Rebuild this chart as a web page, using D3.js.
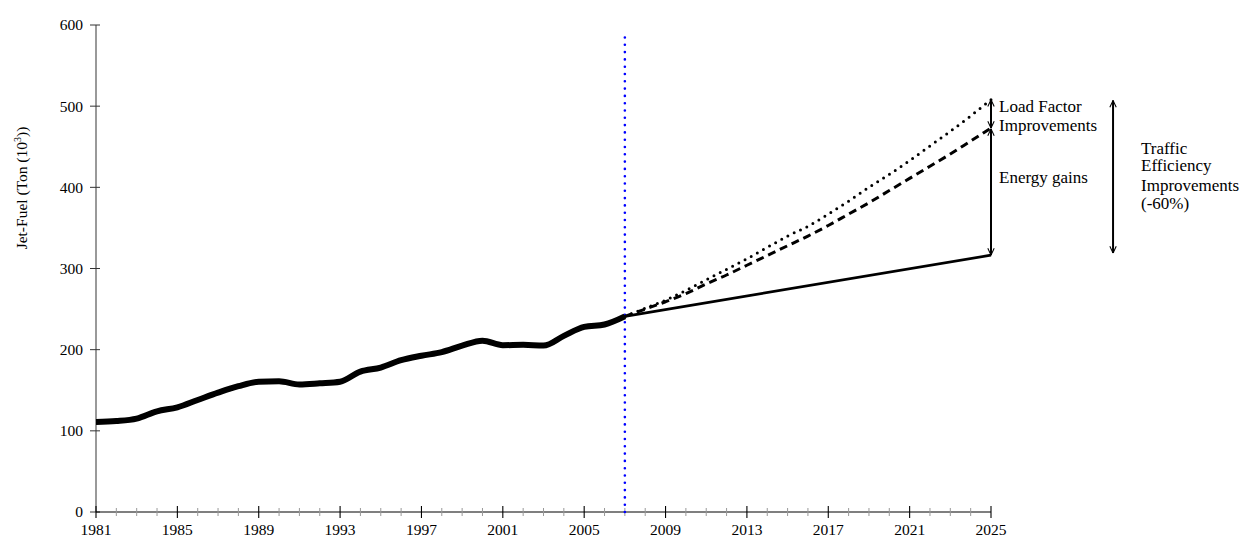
<!DOCTYPE html>
<html>
<head>
<meta charset="utf-8">
<script src="https://cdn.jsdelivr.net/npm/d3@7"></script>
<style>
  html, body { margin: 0; padding: 0; background: #fff; }
  svg { display: block; font-family: "Liberation Serif", "Times New Roman", serif; }
</style>
</head>
<body>
<svg id="chart" width="1243" height="537"></svg>
<script>
// ---- data ----
const histYears = [1981,1982,1983,1984,1985,1986,1987,1988,1989,1990,1991,1992,1993,1994,1995,1996,1997,1998,1999,2000,2001,2002,2003,2004,2005,2006,2007];
const histValues = [111,112,115,124,129,138,147,155,160.5,161,157,158.5,160.5,173,178,187,192.5,197,205,211,205.5,206,205,217,228,231,241];

const projYears = [2007,2008,2009,2010,2011,2012,2013,2014,2015,2016,2017,2018,2019,2020,2021,2022,2023,2024,2025];
const dottedValues = [241,251,261,273,286,299,312,326,340,352,367,383,400,416,433,451,469,488,508];
const dashedValues = [241,250,259,269,281,292,304,316,328,340,353,367,381,396,411,426,441,457,473];
const solidYears = [2007,2025];
const solidValues = [241,316.5];

const splitYear = 2007;
const xTickLabels = [1981,1985,1989,1993,1997,2001,2005,2009,2013,2017,2021,2025];
const yTickLabels = [0,100,200,300,400,500,600];

const annotYear = 2025;
const bigArrowYear = 2031;
const bigArrowRange = [507,319];
const annotText1 = ["Load Factor","Improvements"];
const annotText2 = ["Energy gains"];
const annotText3a = ["Traffic","Efficiency"];
const annotText3b = ["Improvements","(-60%)"];
const yLabel = "Jet-Fuel (Ton (10";

// ---- scales ----
const svg = d3.select("#chart");
const x = d3.scaleLinear().domain([1981,2025]).range([96,991]);
const y = d3.scaleLinear().domain([0,600]).range([512,25]);

// markers
const defs = svg.append("defs");
defs.append("marker").attr("id", "arr")
  .attr("viewBox","0 0 10 10").attr("refX",9.5).attr("refY",5)
  .attr("markerWidth",8).attr("markerHeight",8)
  .attr("markerUnits","userSpaceOnUse")
  .attr("orient", "auto-start-reverse")
  .append("path").attr("d","M1,1 L9.5,5 L1,9").attr("fill","none")
  .attr("stroke","#000").attr("stroke-width",1.3);

// ---- axes ----
const yAxisG = svg.append("g").attr("transform", `translate(${x(1981)},0)`);
yAxisG.append("line").attr("x1",0).attr("x2",0).attr("y1",y(600)).attr("y2",y(0))
  .attr("stroke","#555").attr("stroke-width",1.2);
yAxisG.selectAll("line.tk").data(yTickLabels).enter().append("line")
  .attr("x1",-6).attr("x2",4).attr("y1",d=>y(d)).attr("y2",d=>y(d))
  .attr("stroke","#333").attr("stroke-width",1);
yAxisG.selectAll("text").data(yTickLabels).enter().append("text")
  .attr("x",-13).attr("y",d=>y(d)).attr("dy","0.35em")
  .attr("text-anchor","end").attr("font-size",15.5).text(d=>d);

const xAxisG = svg.append("g");
xAxisG.append("line").attr("x1",x(1981)).attr("x2",x(2025)).attr("y1",y(0)).attr("y2",y(0))
  .attr("stroke","#000").attr("stroke-width",1.2);
const allYears = d3.range(1981, 2026);
xAxisG.selectAll("line.minor").data(allYears.filter(d => !xTickLabels.includes(d))).enter().append("line")
  .attr("x1",d=>x(d)).attr("x2",d=>x(d)).attr("y1",y(0)-4).attr("y2",y(0)+4)
  .attr("stroke","#999").attr("stroke-width",1);
xAxisG.selectAll("line.major").data(xTickLabels).enter().append("line")
  .attr("x1",d=>x(d)).attr("x2",d=>x(d)).attr("y1",y(0)-6).attr("y2",y(0)+6)
  .attr("stroke","#000").attr("stroke-width",1.1);
xAxisG.selectAll("text").data(xTickLabels).enter().append("text")
  .attr("x",d=>x(d)).attr("y",y(0)+23).attr("text-anchor","middle")
  .attr("font-size",15.5).text(d=>d);

// y label
const yl = svg.append("text").attr("transform","translate(27,188) rotate(-90)")
  .attr("text-anchor","middle").attr("font-size",15.5);
yl.append("tspan").text(yLabel);
yl.append("tspan").attr("font-size",10).attr("dy",-6).text("3");
yl.append("tspan").attr("dy",6).text("))");

// ---- split line ----
svg.append("line").attr("x1",x(splitYear)).attr("x2",x(splitYear))
  .attr("y1",y(0)).attr("y2",31)
  .attr("stroke","#0000ff").attr("stroke-width",2.6)
  .attr("stroke-linecap","round").attr("stroke-dasharray","0,7.3");

// ---- lines ----
const line = d3.line().x(d=>x(d[0])).y(d=>y(d[1]));
const smooth = d3.line().x(d=>x(d[0])).y(d=>y(d[1])).curve(d3.curveMonotoneX);

svg.append("path").datum(histYears.map((d,i)=>[d,histValues[i]]))
  .attr("d", smooth).attr("fill","none").attr("stroke","#000")
  .attr("stroke-width",6).attr("stroke-linejoin","round");

svg.append("path").datum(solidYears.map((d,i)=>[d,solidValues[i]]))
  .attr("d", line).attr("fill","none").attr("stroke","#000").attr("stroke-width",2.6);

svg.append("path").datum(projYears.map((d,i)=>[d,dashedValues[i]]))
  .attr("d", smooth).attr("fill","none").attr("stroke","#000")
  .attr("stroke-width",3).attr("stroke-dasharray","8,5");

svg.append("path").datum(projYears.map((d,i)=>[d,dottedValues[i]]))
  .attr("d", smooth).attr("fill","none").attr("stroke","#000")
  .attr("stroke-width",3).attr("stroke-linecap","round").attr("stroke-dasharray","0,7");

// ---- annotation arrows ----
const endDot = dottedValues[dottedValues.length-1];
const endDash = dashedValues[dashedValues.length-1];
const endSolid = solidValues[solidValues.length-1];
function dblArrow(yr, v1, v2) {
  svg.append("line").attr("x1",x(yr)).attr("x2",x(yr)).attr("y1",y(v1)).attr("y2",y(v2))
    .attr("stroke","#000").attr("stroke-width",2)
    .attr("marker-start","url(#arr)").attr("marker-end","url(#arr)");
}
dblArrow(annotYear, endDot, endDash);
dblArrow(annotYear, endDash - 1, endSolid);
dblArrow(bigArrowYear, bigArrowRange[0], bigArrowRange[1]);

function block(lines, xx, y0, dy) {
  const t = svg.append("text").attr("font-size",17);
  lines.forEach((s,i)=> t.append("tspan").attr("x",xx).attr("y",y0+i*dy).text(s));
}
block(annotText1, x(annotYear)+8, 112, 19);
block(annotText2, x(annotYear)+8, 183, 19);
block(annotText3a, 1141, 154, 17);
block(annotText3b, 1141, 191, 18);
</script>
</body>
</html>
